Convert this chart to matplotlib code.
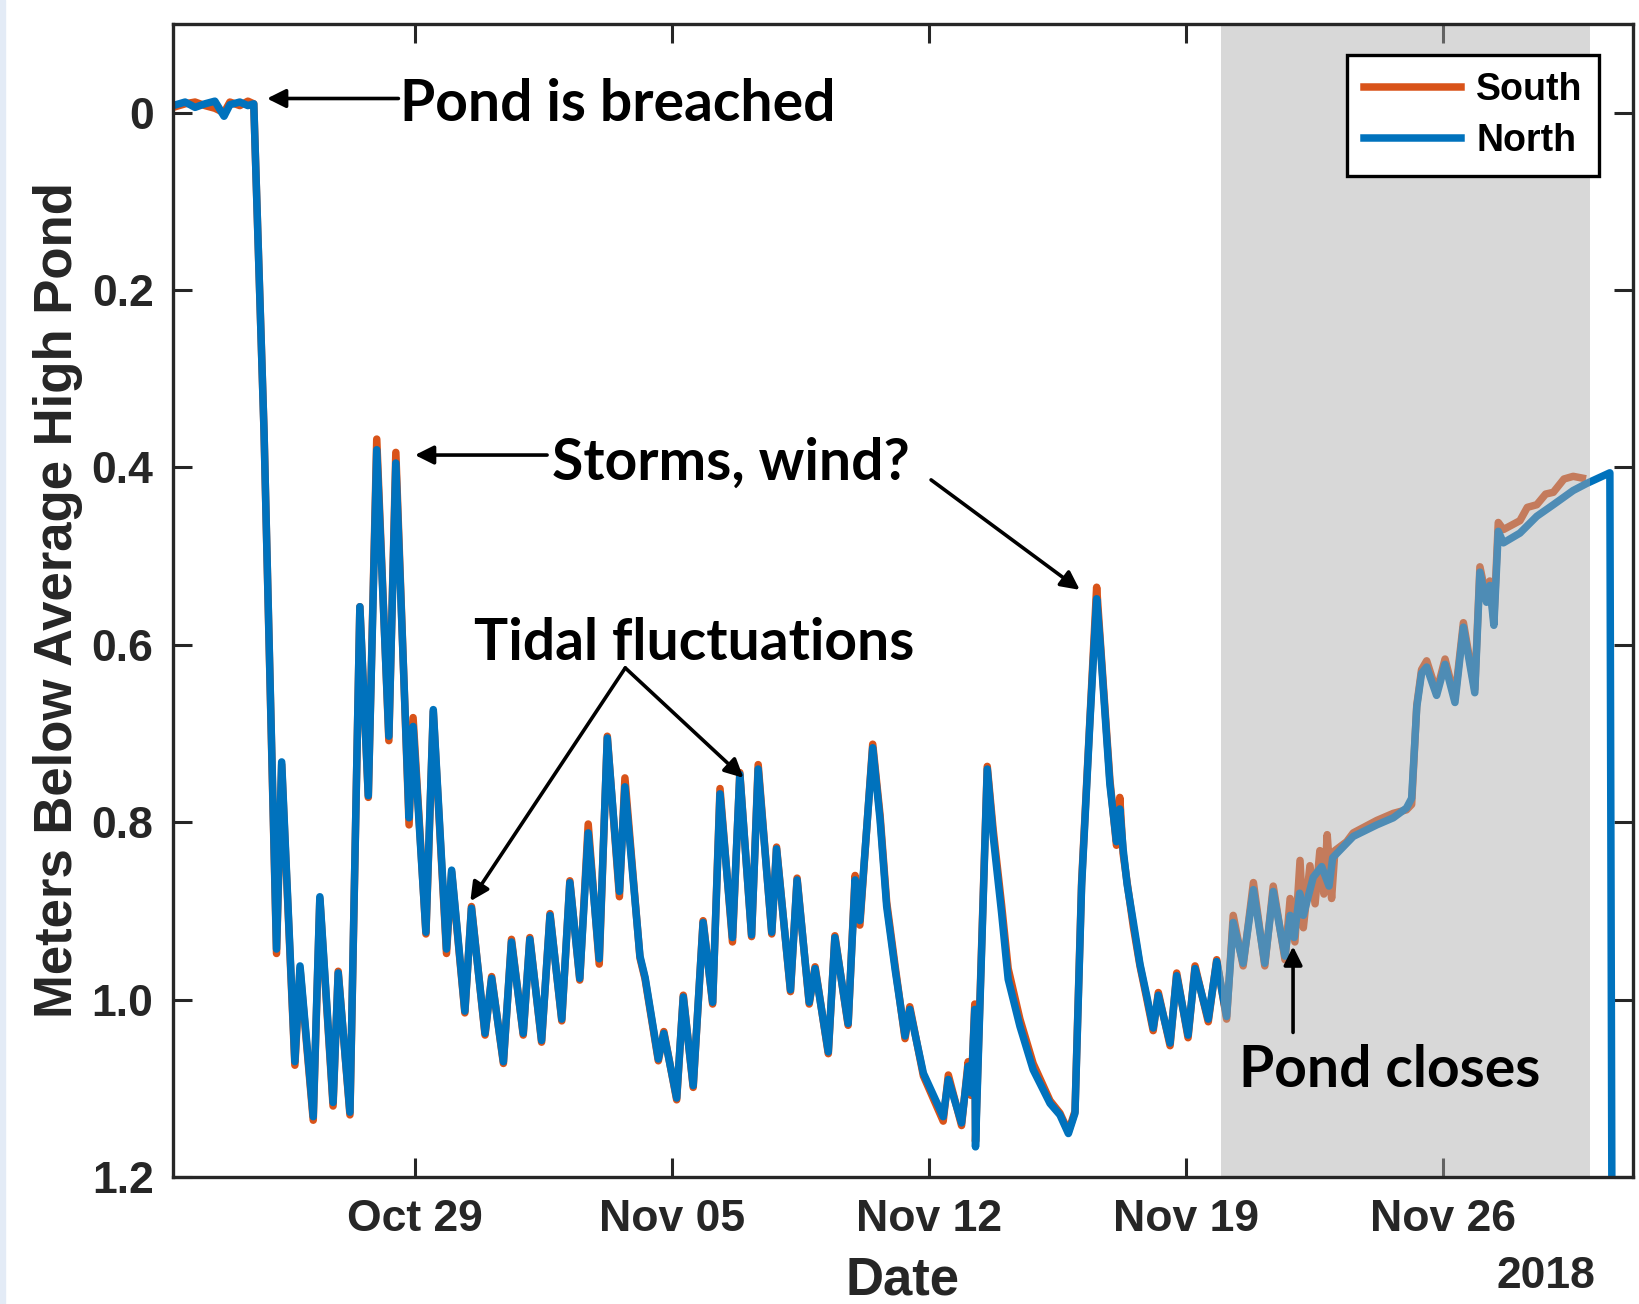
import numpy as np
import pandas as pd
import matplotlib
matplotlib.use("Agg")
import matplotlib.pyplot as plt
import matplotlib.dates as mdates
from matplotlib.patches import Rectangle

# time axis: days after 2018-10-22 00:00
north_days = [0.41, 0.74, 1.01, 1.28, 1.55, 1.80, 1.96, 2.23, 2.45, 2.61, 2.89, 3.23,
              3.37, 3.73, 3.87, 4.23, 4.41, 4.77, 4.91, 5.23, 5.50, 5.73, 5.96, 6.29, 6.48,
              6.84, 6.95, 7.30, 7.50, 7.86, 8.00, 8.36, 8.54, 8.91, 9.09, 9.41, 9.63, 9.95,
              10.13, 10.45, 10.68, 11.00, 11.22, 11.49, 11.72, 12.02, 12.24, 12.57, 12.72,
              13.13, 13.27, 13.63, 13.78, 14.13, 14.31, 14.58, 14.85, 15.11, 15.31, 15.65,
              15.85, 16.17, 16.35, 16.72, 16.85, 17.23, 17.41, 17.74, 17.90, 18.26, 18.44,
              18.80, 18.99, 19.12, 19.47,
              19.67, 19.85, 20.08, 20.35, 20.48, 20.85, 21.39, 21.53, 21.89, 22.07,
              22.15, 22.25, 22.27, 22.59, 22.75, 22.98, 23.16, 23.48, 23.84, 24.30,
              24.57, 24.80, 24.98, 25.16, 25.39, 25.57, 25.66, 25.93, 26.11, 26.20,
              26.29, 26.40, 26.57, 26.75, 26.93, 27.11, 27.25, 27.57, 27.75, 28.06,
              28.25, 28.61, 28.84, 29.11,
              29.29, 29.56, 29.84, 30.15, 30.38, 30.70, 30.84, 30.95, 31.10, 31.20, 31.47,
              31.70, 31.90, 32.00, 32.56, 33.20, 33.65, 34.01, 34.15, 34.29, 34.42, 34.56,
              34.83, 35.06, 35.33, 35.56, 35.87, 36.01, 36.19, 36.28, 36.39, 36.51, 36.65,
              37.10, 37.56, 38.01, 38.55, 38.92, 39.55, 39.63]
north_vals = [-0.008, -0.012, -0.006, -0.010, -0.013, 0.004, -0.009, -0.012, -0.008, -0.010, 0.36, 0.943,
              0.732, 1.070, 0.962, 1.132, 0.884, 1.116, 0.970, 1.127, 0.557, 0.770, 0.380, 0.703, 0.395,
              0.795, 0.692, 0.924, 0.673, 0.943, 0.854, 1.013, 0.897, 1.038, 0.976, 1.070, 0.935, 1.038,
              0.932, 1.046, 0.905, 1.022, 0.868, 0.976, 0.812, 0.954, 0.705, 0.878, 0.760,
              0.951, 0.975, 1.067, 1.038, 1.111, 0.997, 1.097, 0.913, 1.003, 0.768, 0.930,
              0.746, 0.927, 0.740, 0.924, 0.830, 0.989, 0.865, 1.003, 0.965, 1.059, 0.930,
              1.027, 0.865, 0.911, 0.716,
              0.797, 0.895, 0.966, 1.041, 1.011, 1.083, 1.132, 1.090, 1.139, 1.075,
              1.105, 1.011, 1.166, 0.740, 0.815, 0.902, 0.977, 1.030, 1.079, 1.117,
              1.130, 1.151, 1.128, 0.872, 0.684, 0.548, 0.595, 0.757, 0.822, 0.785,
              0.83, 0.87, 0.913, 0.960, 0.995, 1.032, 0.995, 1.049, 0.973, 1.040,
              0.965, 1.022, 0.957, 1.019,
              0.913, 0.959, 0.876, 0.959, 0.878, 0.951, 0.905, 0.93, 0.88, 0.905, 0.862,
              0.85, 0.872, 0.84, 0.816, 0.803, 0.795, 0.784, 0.773, 0.670, 0.632, 0.625,
              0.657, 0.622, 0.665, 0.580, 0.654, 0.518, 0.552, 0.533, 0.578, 0.472, 0.485,
              0.474, 0.455, 0.442, 0.426, 0.418, 0.406, 1.6]

# South logger shares the sampling times up to Nov 20, then has its own record
south_days = north_days[:119] + [29.29, 29.56, 29.84, 30.15, 30.38, 30.70, 30.84, 30.97, 31.11, 31.20,
              31.38, 31.52, 31.65, 31.76, 31.85, 31.97, 32.06, 32.38, 32.56, 33.20,
              33.65, 34.01, 34.15, 34.29, 34.42, 34.56, 34.83, 35.06, 35.33, 35.56,
              35.87, 36.01, 36.19, 36.28, 36.39, 36.51, 36.65, 37.10, 37.30, 37.56,
              37.80, 38.01, 38.30, 38.55, 38.80]
south_vals = [-0.006, -0.010, -0.012, -0.008, -0.005, 0.000, -0.012, -0.008, -0.013, -0.010, 0.36, 0.948,
              0.735, 1.074, 0.965, 1.136, 0.886, 1.120, 0.968, 1.130, 0.557, 0.772, 0.368, 0.708, 0.383,
              0.803, 0.682, 0.926, 0.675, 0.948, 0.856, 1.015, 0.895, 1.040, 0.974, 1.072, 0.932, 1.040,
              0.930, 1.048, 0.903, 1.024, 0.866, 0.978, 0.802, 0.960, 0.703, 0.884, 0.750,
              0.953, 0.977, 1.069, 1.036, 1.113, 0.995, 1.099, 0.911, 1.005, 0.762, 0.935,
              0.744, 0.929, 0.735, 0.926, 0.828, 0.991, 0.863, 1.005, 0.963, 1.061, 0.928,
              1.029, 0.860, 0.916, 0.712,
              0.792, 0.890, 0.962, 1.044, 1.008, 1.086, 1.137, 1.085, 1.142, 1.070,
              1.108, 1.005, 1.160, 0.737, 0.808, 0.893, 0.965, 1.022, 1.072, 1.114,
              1.128, 1.149, 1.126, 0.868, 0.680, 0.535, 0.590, 0.752, 0.826, 0.772,
              0.835, 0.868, 0.918, 0.962, 0.998, 1.035, 0.992, 1.052, 0.970, 1.043,
              0.962, 1.025, 0.955, 1.022,
              0.905, 0.962, 0.868, 0.962, 0.872, 0.955, 0.886, 0.935, 0.843, 0.919,
              0.849, 0.892, 0.832, 0.881, 0.814, 0.886, 0.832, 0.822, 0.812, 0.798,
              0.790, 0.786, 0.780, 0.668, 0.628, 0.618, 0.653, 0.616, 0.660, 0.575,
              0.650, 0.512, 0.548, 0.528, 0.572, 0.462, 0.470, 0.460, 0.445, 0.442,
              0.430, 0.428, 0.413, 0.410, 0.412]

tick_dates = ["2018-10-29", "2018-11-05", "2018-11-12", "2018-11-19", "2018-11-26"]
ytick_vals = [0, 0.2, 0.4, 0.6, 0.8, 1.0, 1.2]
ytick_labels = ["0", "0.2", "0.4", "0.6", "0.8", "1.0", "1.2"]
closed_span = (28.97, 39.0)

base = pd.Timestamp("2018-10-22")


def dn(days):
    d = base + pd.to_timedelta(np.atleast_1d(days), unit="D")
    out = mdates.date2num(d.to_pydatetime())
    return out if np.ndim(days) else out[0]


axfont = "Liberation Sans"
notefont = ["Lato", "DejaVu Sans"]
ink = "#262626"

fig = plt.figure(figsize=(16.4, 13.04), dpi=100)
fig.patches.append(Rectangle((0, 0), 5 / 1640, 1, transform=fig.transFigure,
                             color="#e3ebf6", zorder=0))
ax = fig.add_axes([173 / 1640, 1 - 1177 / 1304, 1460 / 1640, 1153 / 1304])

ax.plot(dn(south_days), south_vals, color="#D95319", lw=5.4, label="South", zorder=2)
ax.plot(dn(north_days), north_vals, color="#0072BD", lw=5.4, label="North", zorder=2.1)
ax.axvspan(dn(closed_span[0]), dn(closed_span[1]), color="#acacac", alpha=0.46, lw=0, zorder=3)

ax.set_xlim(dn(0.41), dn(40.18))
ax.set_ylim(1.2, -0.1)
ax.set_xticks([mdates.date2num(pd.Timestamp(t).to_pydatetime()) for t in tick_dates])
ax.xaxis.set_major_formatter(mdates.DateFormatter("%b %d"))
ax.set_yticks(ytick_vals)
ax.set_yticklabels(ytick_labels)

ax.tick_params(direction="in", length=14, width=2.2, top=True, right=True,
               colors=ink, labelcolor=ink, labelsize=32)
ax.tick_params(axis="x", pad=16)
ax.tick_params(axis="y", pad=14)
for lab in ax.get_xticklabels() + ax.get_yticklabels():
    lab.set_fontweight("bold")
    lab.set_fontfamily(axfont)
for s in ax.spines.values():
    s.set_linewidth(2.4)
    s.set_color(ink)
    s.set_zorder(6)

ax.set_xlabel("Date", fontsize=38, fontweight="bold", family=axfont, color=ink)
ax.xaxis.set_label_coords(0.5, -0.090)
ax.xaxis.label.set_va("center")
ax.set_ylabel("Meters Below Average High Pond", fontsize=38, fontweight="bold",
              family=axfont, color=ink)
ax.yaxis.set_label_coords(-0.079, 0.5)
ax.yaxis.label.set_va("center")
ax.text(0.974, -0.086, "2018", transform=ax.transAxes, ha="right", va="center",
        fontsize=32, fontweight="bold", family=axfont, color=ink)

leg = ax.legend(loc="upper right", bbox_to_anchor=(0.977, 0.973), borderaxespad=0,
                fancybox=False, framealpha=1, edgecolor="black", handlelength=2.6,
                labelspacing=0.4, borderpad=0.45, handletextpad=0.4,
                prop={"family": axfont, "weight": "bold", "size": 27})
leg.get_frame().set_linewidth(2.4)
leg.set_zorder(7)

arrow = dict(arrowstyle="-|>", color="black", lw=2.6, mutation_scale=28, shrinkA=0, shrinkB=0)
note = dict(fontsize=41, fontweight="bold", family=notefont, color="black", zorder=8)

ax.text(dn(6.59), -0.009, "Pond is breached", ha="left", va="center", **note)
ax.annotate("", xy=(dn(2.97), -0.016), xytext=(dn(6.55), -0.016), arrowprops=arrow, zorder=8)

ax.text(dn(10.73), 0.395, "Storms, wind?", ha="left", va="center", **note)
ax.annotate("", xy=(dn(7.0), 0.386), xytext=(dn(10.6), 0.386), arrowprops=arrow, zorder=8)
ax.annotate("", xy=(dn(25.11), 0.538), xytext=(dn(21.06), 0.414), arrowprops=arrow, zorder=8)

ax.text(dn(14.60), 0.598, "Tidal fluctuations", ha="center", va="center", **note)
ax.annotate("", xy=(dn(8.51), 0.889), xytext=(dn(12.73), 0.626), arrowprops=arrow, zorder=8)
ax.annotate("", xy=(dn(15.95), 0.750), xytext=(dn(12.73), 0.626), arrowprops=arrow, zorder=8)

ax.text(dn(29.45), 1.080, "Pond closes", ha="left", va="center", **note)
ax.annotate("", xy=(dn(30.92), 0.94), xytext=(dn(30.92), 1.037), arrowprops=arrow, zorder=8)

fig.savefig("out.png", dpi=100)
